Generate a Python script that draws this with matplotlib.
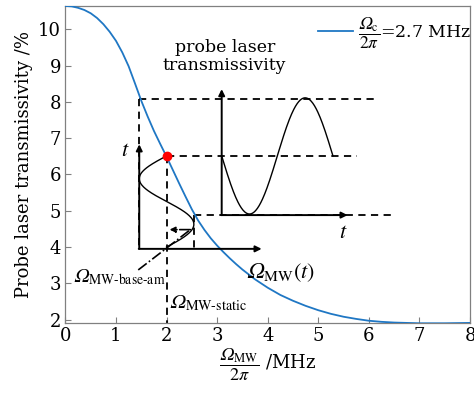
import numpy as np
import matplotlib
matplotlib.use("Agg")
import matplotlib.pyplot as plt

# ---- data ----
omega_mw = [0.0, 0.125, 0.25, 0.375, 0.5, 0.625, 0.75, 0.875, 1.0, 1.125,
            1.25, 1.375, 1.5, 1.625, 1.75, 1.875, 2.0, 2.125, 2.25, 2.375,
            2.5, 2.625, 2.75, 2.875, 3.0, 3.125, 3.25, 3.375, 3.5, 3.75,
            4.0, 4.25, 4.5, 4.75, 5.0, 5.25, 5.5, 5.75, 6.0, 6.25, 6.5,
            6.75, 7.0, 7.25, 7.5, 7.75, 8.0]
transmissivity = [10.64, 10.63, 10.59, 10.53, 10.44, 10.31, 10.14, 9.93,
                  9.68, 9.36, 8.98, 8.51, 8.03, 7.60, 7.20, 6.84, 6.49,
                  6.12, 5.75, 5.39, 5.04, 4.73, 4.47, 4.24, 4.04, 3.86,
                  3.69, 3.53, 3.38, 3.11, 2.88, 2.68, 2.52, 2.38, 2.26,
                  2.16, 2.08, 2.02, 1.97, 1.94, 1.92, 1.91, 1.90, 1.90,
                  1.90, 1.905, 1.91]
OM = "\U0001D6FA"  # italic capital omega
legend_label = r"$\dfrac{" + OM + r"_{\mathrm{c}}}{2\pi}$=2.7 MHz"
x_ticks = [0, 1, 2, 3, 4, 5, 6, 7, 8]
y_ticks = [2, 3, 4, 5, 6, 7, 8, 9, 10]

# schematic: microwave modulation and resulting transmissivity levels
mw_static = 2.0
mw_amp = 0.54
t_high, t_static, t_low = 8.08, 6.51, 4.88

plt.rcParams["font.family"] = ["DejaVu Serif"]
plt.rcParams["mathtext.fontset"] = "stix"

fig = plt.figure(figsize=(4.74, 4.0), dpi=100)
ax = fig.add_axes([0.138, 0.1918, 0.8536, 0.7932])

blue = "#1f77c4"
ax.plot(omega_mw, transmissivity, color=blue, lw=1.3, label=legend_label, zorder=3)

ax.set_xlim(0, 8)
ax.set_ylim(min(transmissivity), max(transmissivity))
ax.set_xticks(x_ticks)
ax.set_yticks(y_ticks)
ax.tick_params(direction="in", length=4, width=0.8, color="#808080",
               labelsize=13, pad=3)
for s in ax.spines.values():
    s.set_color("#808080")
    s.set_linewidth(0.9)

ax.set_ylabel("Probe laser transmissivity /%", fontsize=13, labelpad=4)
ax.set_xlabel(r"$\dfrac{" + OM + r"_{\mathrm{MW}}}{2\pi}$ /MHz", fontsize=13,
              labelpad=1)

leg = ax.legend(loc="upper right", frameon=False, fontsize=12.5,
                handlelength=2.0, handletextpad=0.3,
                bbox_to_anchor=(1.025, 1.0), borderaxespad=0.1)

k = "black"
dash = dict(color=k, lw=1.3, ls=(0, (4, 3)))
lo = mw_static - mw_amp
hi = mw_static + mw_amp

# dashed guide lines
ax.plot([lo, lo], [t_high, 3.95], **dash, zorder=2)
ax.plot([lo, 6.12], [t_high, t_high], **dash, zorder=2)
ax.plot([mw_static, 5.76], [t_static, t_static], **dash, zorder=2)
ax.plot([mw_static, mw_static], [t_static, 1.9], **dash, zorder=2)
ax.plot([hi, 6.54], [t_low, t_low], **dash, zorder=2)
ax.plot([hi, hi], [t_low, 3.95], **dash, zorder=2)

arrow = dict(arrowstyle="-|>", color=k, lw=1.4, mutation_scale=9,
             shrinkA=0, shrinkB=0)
# inset 1 axes (t vertical, Omega_MW horizontal)
ax.annotate("", xy=(lo, 6.83), xytext=(lo, 3.95), arrowprops=arrow)
ax.annotate("", xy=(3.88, 3.95), xytext=(lo - 0.01, 3.95), arrowprops=arrow)
ax.text(1.18, 6.68, r"$t$", fontsize=16, ha="center", va="center")
ax.text(3.58, 3.15, r"$" + OM + r"_{\mathrm{MW}}(t)$", fontsize=16,
        ha="left", va="baseline")

# modulation curve in inset 1
tt = np.linspace(4.0, t_static, 200)
xx = mw_static - mw_amp * np.sin(2 * np.pi * (t_static - tt) / (t_static - 4.0))
ax.plot(xx, tt, color=k, lw=1.0, zorder=4)

# dash-dot annotations
ax.plot([1.44, mw_static], [3.37, 3.97], color=k, lw=1.2, ls="-.", zorder=4)
ax.plot([mw_static, 2.47], [3.97, 4.48], color=k, lw=1.2, ls="-.", zorder=4)
ax.annotate("", xy=(2.06, 4.48), xytext=(2.47, 4.48),
            arrowprops=dict(arrowstyle="-|>", color=k, lw=1.2, ls="-.",
                            mutation_scale=8, shrinkA=0, shrinkB=0))

# inset 2 axes (probe transmissivity vs t)
x2 = 3.09
ax.annotate("", xy=(x2, 8.35), xytext=(x2, t_low), arrowprops=arrow)
ax.annotate("", xy=(5.58, t_low), xytext=(x2 - 0.01, t_low), arrowprops=arrow)
ax.text(5.49, 4.42, r"$t$", fontsize=16, ha="center", va="center")
ts = np.linspace(x2, 5.29, 200)
ys = t_static - 1.6 * np.sin(2 * np.pi * (ts - x2) / (5.29 - x2))
ax.plot(ts, ys, color=k, lw=1.0, zorder=4)
ax.text(3.15, 9.24, "probe laser\ntransmissivity", fontsize=12.5,
        ha="center", va="center", linespacing=1.05)

# red operating point
ax.plot([mw_static], [t_static], "o", color="red", ms=6, zorder=6)

# labels
ax.text(0.15, 3.02, r"$" + OM + r"_{\mathrm{MW\text{-}base\text{-}am}}$",
        fontsize=14, ha="left", va="baseline")
ax.text(2.05, 2.3, r"$" + OM + r"_{\mathrm{MW\text{-}static}}$",
        fontsize=14.5, ha="left", va="baseline")

fig.savefig("out.png", dpi=100)
